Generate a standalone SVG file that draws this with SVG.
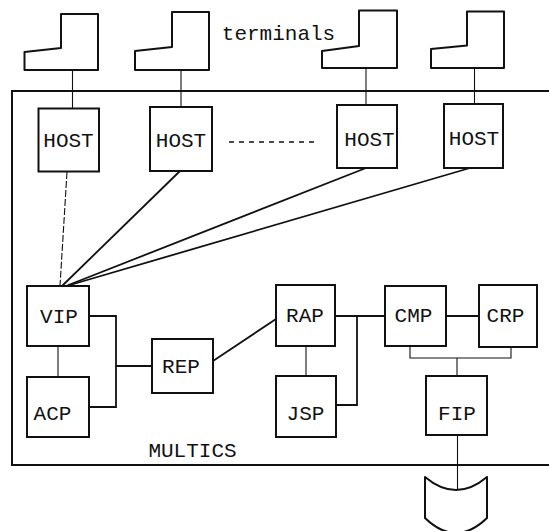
<svg xmlns="http://www.w3.org/2000/svg" width="549" height="531" viewBox="0 0 549 531">
<style>
  .box { fill: #fff; stroke: #111; stroke-width: 2; }
  .term { fill: #fff; stroke: #111; stroke-width: 2; stroke-linejoin: round; }
  .lbl { font-family: "Liberation Mono", "DejaVu Sans Mono", monospace; font-size: 21px; fill: #111; text-anchor: middle; }
  .ln { fill: none; stroke: #111; stroke-width: 1.8; }
  .thin { fill: none; stroke: #111; stroke-width: 1.1; }
</style>
<rect width="549" height="531" fill="#fff"/>

<g id="multics">
  <path d="M549,91 L12,91 L12,465 L549,465" fill="none" stroke="#111" stroke-width="2"/>
  <text class="lbl" x="192.5" y="457">MULTICS</text>
</g>

<g id="connectors">
  <!-- terminals to hosts -->
  <line class="thin" x1="72.5" y1="70" x2="72.5" y2="108"/>
  <line class="thin" x1="181" y1="70" x2="181" y2="107"/>
  <line class="thin" x1="366" y1="68" x2="366" y2="105"/>
  <line class="thin" x1="474.5" y1="68" x2="474.5" y2="104"/>
  <!-- dotted between hosts -->
  <line x1="229" y1="142" x2="317" y2="142" stroke="#111" stroke-width="1.5" stroke-dasharray="5 5"/>
  <!-- hosts to VIP -->
  <line class="thin" x1="67" y1="172" x2="60" y2="286" stroke-dasharray="7 2"/>
  <line class="ln" x1="180" y1="171" x2="62" y2="286"/>
  <line class="ln" x1="366" y1="168" x2="66" y2="286"/>
  <line class="ln" x1="470" y1="168" x2="70" y2="285"/>
  <!-- VIP/ACP -->
  <line class="thin" x1="58" y1="346" x2="58" y2="377"/>
  <path class="ln" d="M89,316 L116,316 L116,407 L89,407"/>
  <line class="ln" x1="116" y1="366" x2="152" y2="366"/>
  <!-- REP to RAP -->
  <line class="ln" x1="213" y1="361" x2="276" y2="319"/>
  <!-- RAP/JSP/CMP -->
  <line class="thin" x1="306" y1="346" x2="306" y2="376"/>
  <line class="ln" x1="335" y1="316" x2="385" y2="316"/>
  <path class="ln" d="M357,316 L357,405 L336,405"/>
  <line class="ln" x1="446" y1="316" x2="479" y2="316"/>
  <!-- CMP/CRP bracket to FIP -->
  <path class="thin" d="M410,346 L410,358 L511,358 L511,346"/>
  <line class="thin" x1="457" y1="358" x2="457" y2="376"/>
  <!-- FIP to disk -->
  <line class="thin" x1="457.5" y1="435" x2="457.5" y2="490"/>
</g>

<g id="terminal1"><path class="term" d="M61,14 L98,14 L98,70 L24.5,70 L24.5,52 L61,48 Z"/></g>
<g id="terminal2"><path class="term" d="M172,12 L209,12 L209,70 L135,70 L135,51 L172,47 Z"/></g>
<g id="terminal3"><path class="term" d="M359,10.5 L397,10.5 L397,68 L322,68 L322,51 L359,46 Z"/></g>
<g id="terminal4"><path class="term" d="M467,11.5 L504,11.5 L504,68 L431,68 L431,49 L467,45.5 Z"/></g>
<g id="terminals-label"><text class="lbl" x="278.5" y="40">terminals</text></g>

<g id="host1"><rect class="box" x="38.5" y="108.5" width="60.5" height="63" stroke-width="1.5"/><text class="lbl" x="68.5" y="147">HOST</text></g>
<g id="host2"><rect class="box" x="150" y="107" width="62" height="64"/><text class="lbl" x="181" y="147">HOST</text></g>
<g id="host3"><rect class="box" x="337" y="105" width="60" height="63"/><text class="lbl" x="369.5" y="146">HOST</text></g>
<g id="host4"><rect class="box" x="444" y="104" width="59" height="64"/><text class="lbl" x="474" y="145">HOST</text></g>

<g id="vip"><rect class="box" x="27" y="286" width="62" height="60"/><text class="lbl" x="59" y="323">VIP</text></g>
<g id="acp"><rect class="box" x="27" y="377" width="62" height="60" stroke-width="2.5"/><text class="lbl" x="52.5" y="420">ACP</text></g>
<g id="rep"><rect class="box" x="152" y="339" width="61" height="54"/><text class="lbl" x="181" y="373">REP</text></g>
<g id="rap"><rect class="box" x="276" y="285" width="59" height="61"/><text class="lbl" x="305" y="322">RAP</text></g>
<g id="jsp"><rect class="box" x="276" y="376" width="60" height="61"/><text class="lbl" x="305.5" y="420">JSP</text></g>
<g id="cmp"><rect class="box" x="385" y="286" width="61" height="60"/><text class="lbl" x="413.5" y="322">CMP</text></g>
<g id="crp"><rect class="box" x="479" y="285" width="58" height="62"/><text class="lbl" x="505.5" y="322">CRP</text></g>
<g id="fip"><rect class="box" x="426" y="376" width="61" height="59"/><text class="lbl" x="457" y="420">FIP</text></g>

<g id="disk"><path class="term" d="M425,477 Q456,503 487,477 L487,518 Q456,548 425,518 Z"/></g>
</svg>
